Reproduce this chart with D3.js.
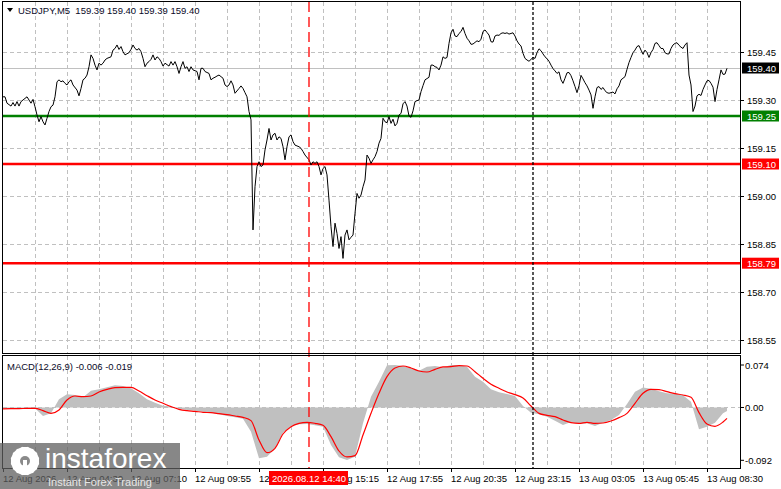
<!DOCTYPE html>
<html>
<head>
<meta charset="utf-8">
<script src="https://cdnjs.cloudflare.com/ajax/libs/d3/7.8.5/d3.min.js"></script>
<style>
  html, body { margin: 0; padding: 0; background: #fff; }
  svg { display: block; font-family: "Liberation Sans", Arial, sans-serif; }
</style>
</head>
<body>
<div id="chart"></div>
<script>
/* USDJPY M5 — line of closes + MACD(12,26,9), MT4 style */

// closes, indexed by bar number (M5 bars, bar 0 = left edge)
const priceBars = [
  0,1,2,4,5,6,7,8,9,11,12,13,14,15,16,17,18,19,20,21,22,23,24,25,26,27,28,29,30,31,32,33,34,35,37,38,39,40,
  41,42,43,44,45,46,47,48,49,50,51,52,54,55,56,57,58,59,60,61,63,64,65,66,67,68,69,70,71,72,73,74,75,76,77,78,
  79,80,81,83,84,85,86,87,88,89,90,91,92,93,94,95,97,98,99,100,101,103,104,105,106,107,108,110,111,112,113,114,
  115,116,118,119,120,121,122,123,124,125,126,127,128,129,130,131,132,133,134,135,136,137,138,139,140,141,142,
  143,144,145,146,148,149,150,151,153,154,155,156,157,158,159,160,161,162,163,164,165,166,167,168,169,170,171,
  172,173,174,175,176,177,178,179,180,181,182,183,184,185,186,187,188,189,190,191,192,193,194,195,196,197,198,
  199,200,201,202,203,204,205,206,207,208,209,210,211,212,213,214,215,216,217,218,219,220,221,222,223,224,225,
  226,227,228,229,230,231,232,233,234,235,236,237,238,239,240,241,242,243,244,245,246,247,248,249,250,251,252,
  253,254,255,256,257,258,259,260,261,262,263,264,265,266,267,268,269,270,271,272,273,274,275,276,277,278,279,
  280,281,282,283,284,285,286,287,288,289,290,291,292,293,294,295,296,297,298,299,300,301,302,303,304,305,306,
  307,308,309,310,311,312,313,314,315,316,317,318,319,320,321,322,323,324,325,326,327,328,329,330,331,332,333,
  334,335,336,337,338,339,340,341,342,343,344,345,346,347,348,349,350,351,352,353,354,355,356,357,358,359,360,
  361,362
];
const priceClose = [
  159.310,159.310,159.290,159.281,159.292,159.281,159.295,159.281,159.295,159.305,159.310,159.300,159.290,159.302,
  159.279,159.253,159.232,159.248,159.232,159.222,159.243,159.264,159.279,159.284,159.310,159.357,159.363,159.357,
  159.360,159.352,159.347,159.357,159.363,159.347,159.331,159.313,159.336,159.363,
  159.368,159.378,159.404,159.441,159.430,159.409,159.394,159.415,159.409,159.415,159.425,159.430,159.435,159.456,
  159.461,159.472,159.458,159.467,159.451,159.441,159.448,159.458,159.472,159.461,159.456,159.461,159.451,159.430,
  159.404,159.415,159.420,159.427,159.441,159.425,159.435,159.430,
  159.420,159.406,159.415,159.406,159.420,159.409,159.420,159.404,159.383,159.404,159.420,159.399,159.404,159.389,
  159.404,159.394,159.389,159.363,159.399,159.399,159.389,159.383,159.363,159.368,159.371,159.375,159.378,159.368,
  159.347,159.342,159.347,159.360,
  159.347,159.321,159.336,159.344,159.336,159.323,159.310,159.264,159.238,158.894,159.029,159.092,159.107,159.092,
  159.097,159.144,159.175,159.211,159.175,159.191,159.196,159.175,159.185,159.180,159.154,159.113,159.154,
  159.185,159.191,159.170,159.159,159.154,159.149,159.139,159.128,159.113,159.097,159.107,159.102,159.107,159.092,
  159.066,159.086,159.092,159.066,158.987,158.904,158.842,158.915,158.883,158.836,158.873,158.805,158.878,
  158.894,158.863,158.871,158.878,158.946,159.008,158.993,159.003,159.029,159.050,159.128,159.118,159.102,159.113,
  159.123,159.139,159.165,159.180,159.243,159.232,159.229,159.248,159.227,159.240,159.219,159.227,159.253,
  159.258,159.288,159.295,159.281,159.250,159.246,159.266,159.295,159.298,159.300,159.326,159.345,159.363,159.367,
  159.371,159.409,159.409,159.404,159.402,159.394,159.409,159.435,159.430,159.433,159.477,159.510,159.521,
  159.500,159.498,159.508,159.514,159.527,159.508,159.493,159.485,159.474,159.475,159.480,159.485,159.482,159.490,
  159.514,159.519,159.511,159.503,159.482,159.481,159.500,159.503,159.502,159.508,159.510,159.508,159.510,
  159.506,159.508,159.510,159.500,159.485,159.475,159.469,159.446,159.430,159.425,159.421,159.427,159.433,159.430,
  159.448,159.460,159.454,159.444,159.435,159.429,159.421,159.409,159.398,159.391,159.383,159.388,159.363,
  159.352,159.368,159.385,159.386,159.376,159.360,159.342,159.323,159.344,159.377,159.366,159.354,159.344,159.331,
  159.316,159.274,159.310,159.339,159.342,159.333,159.339,159.329,159.323,159.321,159.323,159.325,159.319,
  159.335,159.344,159.363,159.368,159.373,159.396,159.417,159.433,159.448,159.456,159.467,159.470,159.456,159.443,
  159.456,159.448,159.433,159.448,159.458,159.477,159.479,159.470,159.461,159.461,159.448,159.444,159.444,
  159.461,159.472,159.477,159.479,159.471,159.465,159.461,159.472,159.479,159.378,159.347,159.264,159.281,159.313,
  159.318,159.314,159.333,159.347,159.360,159.361,159.352,159.340,159.295,159.333,159.363,159.394,159.380,
  159.381,159.399
];

// MACD(12,26,9): histogram (main) and signal, sampled bars
const macdBars = [
  0,4,8,12,16,20,24,28,32,36,40,44,48,52,56,60,64,68,72,76,80,84,88,92,96,100,104,108,112,116,120,
  124,128,132,136,140,144,148,152,156,160,164,168,172,176,180,184,188,192,196,200,204,208,212,216,220,
  224,228,232,236,240,244,248,252,256,260,264,268,272,276,280,284,288,292,296,300,304,308,312,316,320,
  324,328,332,336,340,344,348,352,356,360,362
];
const macdMain = [
  -0.0020,-0.0020,-0.0015,-0.0010,-0.0015,-0.0148,-0.0102,0.0142,0.0229,0.0218,0.0177,0.0293,0.0316,0.0351,
  0.0386,0.0375,0.0334,0.0247,0.0142,0.0084,0.0032,0.0015,-0.0020,-0.0044,-0.0055,-0.0073,-0.0090,-0.0119,
  -0.0148,-0.0171,-0.0195,
  -0.0421,-0.0886,-0.0857,-0.0711,-0.0438,-0.0322,-0.0293,-0.0287,-0.0311,-0.0334,-0.0653,-0.0868,-0.0915,
  -0.0857,-0.0276,0.0189,0.0450,0.0735,0.0740,0.0723,0.0682,0.0642,0.0711,0.0723,0.0700,
  0.0740,0.0740,0.0711,0.0537,0.0450,0.0316,0.0264,0.0235,0.0200,0.0026,-0.0090,-0.0119,-0.0160,-0.0229,
  -0.0305,-0.0253,-0.0287,-0.0276,-0.0322,-0.0264,-0.0218,-0.0131,0.0061,0.0276,0.0346,
  0.0328,0.0282,0.0247,0.0241,0.0212,0.0102,-0.0380,-0.0334,-0.0264,-0.0102,-0.0060
];
const macdSignal = [
  -0.0026,-0.0020,-0.0020,-0.0015,-0.0015,-0.0055,-0.0102,-0.0044,0.0131,0.0200,0.0189,0.0200,0.0270,0.0316,
  0.0346,0.0351,0.0351,0.0287,0.0206,0.0131,0.0073,0.0015,-0.0032,-0.0055,-0.0067,-0.0084,-0.0090,-0.0107,
  -0.0125,-0.0148,-0.0171,
  -0.0229,-0.0566,-0.0787,-0.0711,-0.0462,-0.0334,-0.0276,-0.0258,-0.0276,-0.0311,-0.0508,-0.0758,-0.0862,
  -0.0839,-0.0479,-0.0102,0.0247,0.0537,0.0688,0.0723,0.0688,0.0636,0.0618,0.0665,0.0706,
  0.0711,0.0729,0.0723,0.0624,0.0508,0.0404,0.0334,0.0270,0.0224,0.0166,0.0026,-0.0102,-0.0136,-0.0160,
  -0.0218,-0.0264,-0.0276,-0.0258,-0.0276,-0.0270,-0.0235,-0.0177,-0.0102,0.0073,0.0247,
  0.0316,0.0311,0.0276,0.0241,0.0218,0.0177,-0.0090,-0.0287,-0.0328,-0.0253,-0.0190
];

// axes
const priceTicks = [158.55, 158.70, 158.85, 159.00, 159.15, 159.30, 159.45];
const macdTicks = [0.074, 0.00, -0.092];
const macdTickText = ["0.074", "0.00", "-0.092"];
const timeBars = [0, 32, 64, 96, 128, 160, 192, 224, 256, 288, 320, 352];
const timeLabels = ["12 Aug 2026", "12 Aug 04:30", "12 Aug 07:10", "12 Aug 09:55", "12 Aug 12:35",
  "12 Aug 15:15", "12 Aug 17:55", "12 Aug 20:35", "12 Aug 23:15", "13 Aug 03:05", "13 Aug 05:45", "13 Aug 08:30"];

// horizontal levels
const levelPrices = [159.25, 159.10, 158.79];
const levelColors = ["#008000", "#ff0000", "#ff0000"];
const lastPrice = 159.40;

// vertical markers
const cursorBar = 153, cursorText = "2026.08.12 14:40";
const sessionBar = 265;

const header = "USDJPY,M5  159.39 159.40 159.39 159.40";
const macdHeader = "MACD(12,26,9) -0.006 -0.019";

/* ------------------------------------------------------------------ */
const W = 781, H = 489;
const L = 3, R = 740;
const top1 = 2, bot1 = 353;      // price pane
const top2 = 356, bot2 = 468;    // MACD pane
const grid = "#c0c0c0";

const svg = d3.select("#chart").append("svg")
  .attr("width", W).attr("height", H).attr("viewBox", `0 0 ${W} ${H}`);

const x = d3.scaleLinear().domain([0, 368.5]).range([L, R]);
const y = d3.scaleLinear().domain([158.55, 159.45]).range([340, 52]);
const ym = d3.scaleLinear().domain([-0.092, 0.074]).range([460.3, 365]);

const defs = svg.append("defs");
defs.append("clipPath").attr("id", "clip1").append("rect")
  .attr("x", L).attr("y", top1).attr("width", R - L).attr("height", bot1 - top1);
defs.append("clipPath").attr("id", "clip2").append("rect")
  .attr("x", L).attr("y", top2).attr("width", R - L).attr("height", bot2 - top2);

// vertical grid, both panes
const gridBars = d3.range(16, 368, 16);
[[top1, bot1], [top2, bot2]].forEach(([t, b]) => {
  svg.append("g").selectAll("line").data(gridBars).join("line")
    .attr("x1", d => Math.round(x(d)) + 0.5).attr("x2", d => Math.round(x(d)) + 0.5)
    .attr("y1", t).attr("y2", b)
    .attr("stroke", grid).attr("stroke-dasharray", "4,3");
});

// horizontal grid (price)
svg.append("g").selectAll("line").data(priceTicks).join("line")
  .attr("x1", L).attr("x2", R)
  .attr("y1", d => Math.round(y(d)) + 0.5).attr("y2", d => Math.round(y(d)) + 0.5)
  .attr("stroke", grid).attr("stroke-dasharray", "4,3");

// MACD zero
svg.append("line")
  .attr("x1", L).attr("x2", R).attr("y1", Math.round(ym(0)) + 0.5).attr("y2", Math.round(ym(0)) + 0.5)
  .attr("stroke", grid).attr("stroke-dasharray", "4,3");

// last price line
svg.append("line")
  .attr("x1", L).attr("x2", R).attr("y1", Math.round(y(lastPrice)) + 0.5).attr("y2", Math.round(y(lastPrice)) + 0.5)
  .attr("stroke", "#c0c0c0");

// support / resistance levels
svg.append("g").selectAll("line").data(levelPrices).join("line")
  .attr("x1", L).attr("x2", R).attr("y1", d => y(d)).attr("y2", d => y(d))
  .attr("stroke", (d, i) => levelColors[i]).attr("stroke-width", 2.5);

// price line
const pts = priceBars.map((b, i) => [b, priceClose[i]]);
svg.append("path").datum(pts)
  .attr("clip-path", "url(#clip1)")
  .attr("fill", "none").attr("stroke", "#000").attr("stroke-width", 1)
  .attr("stroke-linejoin", "round")
  .attr("d", d3.line().x(d => x(d[0])).y(d => y(d[1])));

// MACD histogram + signal
const mpts = macdBars.map((b, i) => ({ b, h: macdMain[i], s: macdSignal[i] }));
svg.append("path").datum(mpts)
  .attr("clip-path", "url(#clip2)")
  .attr("fill", "#c0c0c0")
  .attr("d", d3.area().x(d => x(d.b)).y0(ym(0)).y1(d => ym(d.h)));
svg.append("path").datum(mpts)
  .attr("clip-path", "url(#clip2)")
  .attr("fill", "none").attr("stroke", "#ff0000").attr("stroke-width", 1.2)
  .attr("d", d3.line().x(d => x(d.b)).y(d => ym(d.s)).curve(d3.curveMonotoneX));

// vertical markers
svg.append("line")
  .attr("x1", x(cursorBar)).attr("x2", x(cursorBar)).attr("y1", top1).attr("y2", bot2)
  .attr("stroke", "#ff0000").attr("stroke-width", 1.3).attr("stroke-dasharray", "10,5");
svg.append("line")
  .attr("x1", x(sessionBar)).attr("x2", x(sessionBar)).attr("y1", top1).attr("y2", bot2)
  .attr("stroke", "#000").attr("stroke-width", 1.3).attr("stroke-dasharray", "3,2");

// pane frames
svg.append("rect").attr("x", L - 0.5).attr("y", top1 - 0.5).attr("width", R - L + 1).attr("height", bot1 - top1 + 1)
  .attr("fill", "none").attr("stroke", "#000");
svg.append("rect").attr("x", L - 0.5).attr("y", top2 - 0.5).attr("width", R - L + 1).attr("height", bot2 - top2 + 1)
  .attr("fill", "none").attr("stroke", "#000");

// right price axis
const fs = "9.5px";
const pAxis = svg.append("g");
pAxis.selectAll("line").data(priceTicks).join("line")
  .attr("x1", R).attr("x2", R + 4).attr("y1", d => Math.round(y(d)) + 0.5).attr("y2", d => Math.round(y(d)) + 0.5)
  .attr("stroke", "#000");
pAxis.selectAll("text").data(priceTicks).join("text")
  .attr("x", R + 7).attr("y", d => y(d) + 3.5)
  .style("font-size", fs).attr("fill", "#000")
  .text(d => d.toFixed(2));

// price tags for levels and last price
const tags = [{ p: lastPrice, c: "#000" }].concat(levelPrices.map((p, i) => ({ p, c: levelColors[i] })));
const tg = svg.append("g").selectAll("g").data(tags).join("g");
tg.append("rect")
  .attr("x", R + 2).attr("y", d => y(d.p) - 5.5).attr("width", 37).attr("height", 11)
  .attr("fill", d => d.c);
tg.append("text")
  .attr("x", R + 7).attr("y", d => y(d.p) + 3.5)
  .style("font-size", fs).attr("fill", "#fff")
  .text(d => d.p.toFixed(2));

// MACD axis
const mAxis = svg.append("g");
mAxis.selectAll("line").data(macdTicks).join("line")
  .attr("x1", R).attr("x2", R + 4).attr("y1", d => ym(d)).attr("y2", d => ym(d))
  .attr("stroke", "#000");
mAxis.selectAll("text").data(macdTicks).join("text")
  .attr("x", R + 5).attr("y", d => ym(d) + 3.5)
  .style("font-size", fs).attr("fill", "#000")
  .text((d, i) => macdTickText[i]);

// time axis
const tAxis = svg.append("g");
tAxis.selectAll("line").data(timeBars).join("line")
  .attr("x1", d => Math.round(x(d)) + 0.5).attr("x2", d => Math.round(x(d)) + 0.5)
  .attr("y1", bot2).attr("y2", bot2 + 4).attr("stroke", "#000");
tAxis.selectAll("text").data(timeBars).join("text")
  .attr("x", d => x(d)).attr("y", 481.5)
  .style("font-size", fs).attr("fill", "#000")
  .text((d, i) => timeLabels[i]);

// cursor time tag
const ct = svg.append("g");
ct.append("rect").attr("x", x(cursorBar) - 40).attr("y", 471).attr("width", 79).attr("height", 14).attr("fill", "#ff0000");
ct.append("text").attr("x", x(cursorBar)).attr("y", 481.5).attr("text-anchor", "middle")
  .style("font-size", fs).attr("fill", "#fff").text(cursorText);

// headers
svg.append("path").attr("d", "M7,8 L13,8 L10,12 Z").attr("fill", "#000");
svg.append("text").attr("x", 18).attr("y", 14).style("font-size", fs).attr("fill", "#0a0a28")
  .attr("xml:space", "preserve").style("white-space", "pre").text(header);
svg.append("text").attr("x", 7).attr("y", 370).style("font-size", fs).attr("fill", "#0a0a28")
  .text(macdHeader);

// watermark
const wm = svg.append("g");
wm.append("rect").attr("x", 0).attr("y", 443).attr("width", 180).attr("height", 46)
  .attr("fill", "#5f5f5f").attr("opacity", 0.75);
const gear = wm.append("g").attr("transform", "translate(25,461)");
d3.range(8).forEach(k => {
  gear.append("rect").attr("x", -3.5).attr("y", -14).attr("width", 7).attr("height", 28)
    .attr("fill", "#fff").attr("transform", `rotate(${k * 22.5})`);
});
gear.append("circle").attr("r", 10.5).attr("fill", "#fff");
gear.append("circle").attr("r", 5).attr("fill", "#8a8a8a");
gear.append("rect").attr("x", -2).attr("y", -1).attr("width", 4).attr("height", 14).attr("fill", "#fff");
wm.append("text").attr("x", 45).attr("y", 468).style("font-size", "28px").attr("fill", "#fff")
  .style("font-family", "'Liberation Sans', Arial, sans-serif").text("instaforex");
wm.append("text").attr("x", 48).attr("y", 485.5).style("font-size", "11px").attr("fill", "#e6e6e6")
  .text("Instant Forex Trading");
</script>
</body>
</html>
